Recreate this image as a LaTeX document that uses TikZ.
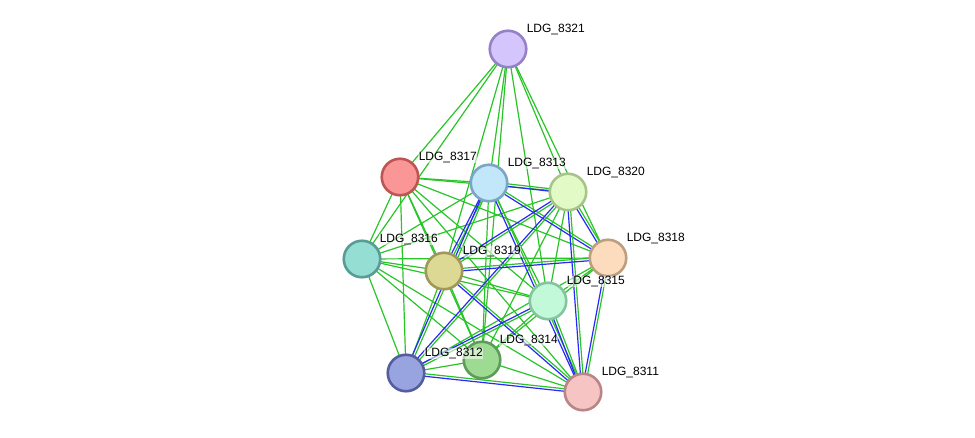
\documentclass[tikz,border=0pt]{standalone}
\usepackage{fontspec}
\setmainfont{Liberation Sans}
\usetikzlibrary{calc}
\definecolor{eg}{RGB}{40,196,40}
\definecolor{eb}{RGB}{40,40,250}
\tikzset{
  gline/.style={draw=eg,line width=1.2pt},
  bline/.style={draw=eb,line width=1.2pt},
  prot/.style={circle,minimum size=36.5pt,inner sep=0pt,line width=2.6pt},
  lbl/.style={anchor=west,font=\fontsize{12pt}{12pt}\selectfont,fill=white,fill opacity=0.55,text opacity=1,inner sep=0.6pt}
}
\newcommand\ged[2]{\draw[gline] (c#1) -- (c#2);}
\newcommand\bed[2]{%
  \draw[gline] ($(c#1)!1.25pt!90:(c#2)$) -- ($(c#2)!1.25pt!-90:(c#1)$);
  \draw[bline] ($(c#1)!1.25pt!-90:(c#2)$) -- ($(c#2)!1.25pt!90:(c#1)$);}
\begin{document}
\begin{tikzpicture}[x=1pt,y=-1pt]
\useasboundingbox (0,0) rectangle (975,438);
\coordinate (cA) at (508,49);
\coordinate (cB) at (400,177);
\coordinate (cC) at (489,183);
\coordinate (cD) at (568,192);
\coordinate (cE) at (362,259);
\coordinate (cF) at (444,271);
\coordinate (cG) at (608,258);
\coordinate (cH) at (548,301);
\coordinate (cI) at (406,373);
\coordinate (cJ) at (482,360);
\coordinate (cK) at (583,392);
% green edges
\ged{A}{B}\ged{A}{E}\ged{A}{F}\ged{A}{C}\ged{A}{J}\ged{A}{H}\ged{A}{D}\ged{A}{G}
\ged{B}{C}\ged{B}{D}\ged{B}{E}\ged{B}{F}\ged{B}{G}\ged{B}{H}\ged{B}{I}\ged{B}{J}\ged{B}{K}
\ged{C}{E}\ged{C}{H}\ged{C}{J}
\ged{D}{E}\ged{D}{H}\ged{D}{J}
\ged{E}{F}\ged{E}{G}\ged{E}{H}\ged{E}{I}\ged{E}{J}\ged{E}{K}
\ged{F}{H}\ged{F}{I}\ged{F}{J}
\ged{G}{H}\ged{G}{I}\ged{G}{J}
\ged{H}{J}\ged{I}{J}\ged{J}{K}
% green + blue edges
\bed{C}{D}\bed{C}{F}\bed{C}{G}\bed{C}{I}\bed{C}{K}
\bed{D}{F}\bed{D}{G}\bed{D}{I}\bed{D}{K}
\bed{F}{G}\bed{F}{K}\bed{G}{K}
\bed{H}{I}\bed{H}{K}\bed{I}{K}
% proteins
\node[prot,fill={rgb,255:red,212;green,198;blue,252},draw={rgb,255:red,150;green,128;blue,200}] (n8321) at (cA) {};
\node[prot,fill={rgb,255:red,251;green,150;blue,150},draw={rgb,255:red,190;green,84;blue,84}] (n8317) at (cB) {};
\node[prot,fill={rgb,255:red,194;green,230;blue,250},draw={rgb,255:red,122;green,166;blue,196}] (n8313) at (cC) {};
\node[prot,fill={rgb,255:red,226;green,251;blue,198},draw={rgb,255:red,168;green,196;blue,138}] (n8320) at (cD) {};
\node[prot,fill={rgb,255:red,148;green,222;blue,212},draw={rgb,255:red,88;green,156;blue,148}] (n8316) at (cE) {};
\node[prot,fill={rgb,255:red,220;green,217;blue,148},draw={rgb,255:red,160;green,152;blue,90}] (n8319) at (cF) {};
\node[prot,fill={rgb,255:red,253;green,220;blue,190},draw={rgb,255:red,190;green,158;blue,128}] (n8318) at (cG) {};
\node[prot,fill={rgb,255:red,194;green,250;blue,217},draw={rgb,255:red,132;green,196;blue,158}] (n8315) at (cH) {};
\node[prot,fill={rgb,255:red,152;green,164;blue,224},draw={rgb,255:red,84;green,94;blue,158}] (n8312) at (cI) {};
\node[prot,fill={rgb,255:red,158;green,219;blue,146},draw={rgb,255:red,94;green,156;blue,90}] (n8314) at (cJ) {};
\node[prot,fill={rgb,255:red,247;green,196;blue,196},draw={rgb,255:red,184;green,134;blue,134}] (n8311) at (cK) {};
% labels
\node[lbl] (l8321) at ($(cA)+(18,-19.5)$) {LDG\_8321};
\node[lbl] (l8317) at ($(cB)+(18,-19.5)$) {LDG\_8317};
\node[lbl] (l8313) at ($(cC)+(18,-19.5)$) {LDG\_8313};
\node[lbl] (l8320) at ($(cD)+(18,-19.5)$) {LDG\_8320};
\node[lbl] (l8316) at ($(cE)+(17,-19.5)$) {LDG\_8316};
\node[lbl] (l8319) at ($(cF)+(18,-19.5)$) {LDG\_8319};
\node[lbl] (l8318) at ($(cG)+(18,-19.5)$) {LDG\_8318};
\node[lbl] (l8315) at ($(cH)+(18,-19.5)$) {LDG\_8315};
\node[lbl] (l8312) at ($(cI)+(18,-19.5)$) {LDG\_8312};
\node[lbl] (l8314) at ($(cJ)+(17,-19.5)$) {LDG\_8314};
\node[lbl] (l8311) at ($(cK)+(18,-19.5)$) {LDG\_8311};
\end{tikzpicture}
\end{document}
